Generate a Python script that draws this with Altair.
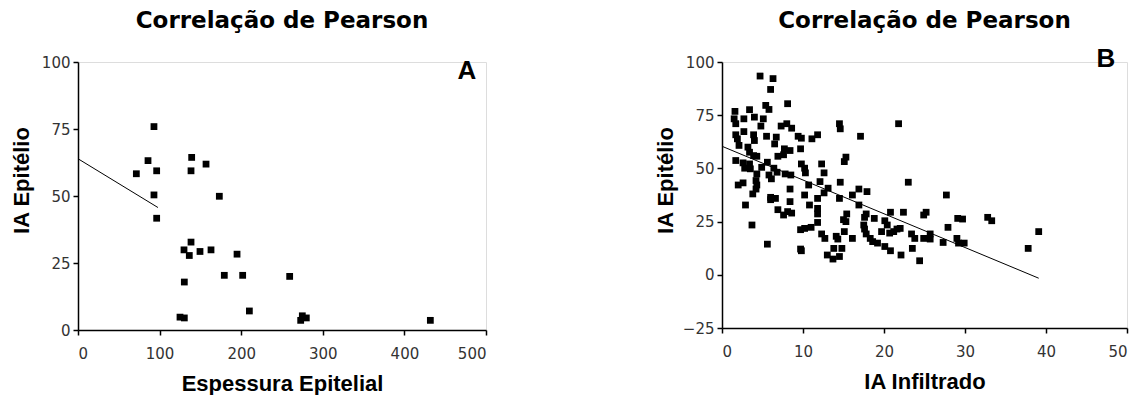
import altair as alt
import pandas as pd

title_text = "Correlação de Pearson"

# Panel A: Espessura Epitelial vs IA Epitélio
a_x = [71.5, 85.8, 93.1, 96.4, 93.1, 96.4, 139.3, 138.5, 156.9, 173.2, 138.5, 129.9,
       136.4, 149.5, 163.0, 194.9, 179.3, 201.8, 259.4, 130.3, 125.0, 130.3, 210.0,
       272.9, 274.9, 279.8, 431.8]
a_y = [58.3, 63.2, 75.9, 59.4, 50.4, 41.7, 64.4, 59.4, 61.9, 49.9, 32.8, 29.9,
       27.8, 29.3, 29.9, 28.3, 20.4, 20.4, 20.0, 17.9, 4.8, 4.5, 7.1,
       3.6, 5.3, 4.5, 3.6]
a_line_x = [0, 98]
a_line_y = [63.9, 45.7]

# Panel B: IA Infiltrado vs IA Epitélio
b_x = [4.7, 6.3, 6.0, 8.1, 5.4, 5.8, 3.4, 1.6, 5.1, 4.0, 2.7, 1.5, 1.7, 4.8, 8.0, 7.3, 8.6,
       14.5, 14.6, 21.8, 2.7, 1.7, 3.9, 5.5, 6.7, 9.4, 9.8, 11.1, 11.8, 17.1, 1.9, 4.0, 6.5,
       2.1, 3.2, 7.7, 8.4, 9.7, 3.4, 3.9, 4.3, 6.9, 7.6, 15.3, 15.1, 1.7, 2.6, 3.4, 5.6, 12.3,
       9.8, 2.8, 3.5, 4.9, 6.4, 10.2, 6.8, 7.8, 8.5, 10.3, 12.6, 4.3, 5.8, 6.1, 4.2, 2.0, 2.6,
       4.3, 12.1, 14.6, 10.7, 4.2, 8.4, 13.1, 16.9, 17.9, 3.8, 10.2, 12.6, 16.1, 23.0, 27.7,
       6.0, 6.6, 6.0, 11.8, 14.5, 8.4, 2.9, 10.8, 16.9, 11.8, 6.9, 8.1, 8.6, 7.6, 11.8, 15.4,
       17.8, 20.8, 22.4, 25.2, 24.9, 17.6, 18.8, 20.1, 20.4, 29.1, 29.7, 32.8, 33.3, 15.0,
       15.3, 3.7, 11.8, 17.5, 11.0, 10.2, 9.7, 17.6, 27.9, 21.6, 22.0, 21.2, 15.1, 19.7, 17.8,
       20.7, 39.1, 23.4, 25.7, 12.3, 14.1, 12.7, 14.3, 16.1, 18.3, 23.8, 24.9, 29.0, 25.7,
       18.6, 19.2, 27.3, 29.2, 29.9, 5.6, 20.1, 13.8, 14.8, 23.5, 37.8, 9.8, 20.8, 13.0, 14.5,
       22.1, 13.7, 24.4, 9.7]
b_y = [93.4, 92.2, 87.1, 80.4, 79.6, 77.7, 77.6, 76.8, 73.3, 74.1, 73.3, 73.3, 71.0, 69.9,
       71.0, 69.9, 68.9, 71.0, 68.6, 71.0, 67.3, 65.8, 65.8, 65.1, 64.7, 65.1, 64.2, 63.9,
       65.8, 65.1, 63.9, 63.1, 61.5, 60.8, 60.0, 59.2, 58.4, 59.2, 57.6, 56.0, 55.7, 55.7,
       56.4, 55.3, 53.2, 53.7, 52.6, 52.1, 52.9, 52.1, 52.1, 50.1, 49.8, 50.5, 50.1, 50.1,
       48.2, 47.4, 46.9, 47.9, 47.9, 47.4, 46.9, 45.1, 44.3, 42.2, 43.2, 42.2, 43.8, 43.5,
       42.2, 40.3, 40.3, 40.7, 40.3, 39.1, 38.0, 37.5, 38.5, 37.5, 43.5, 37.5, 36.4, 35.9,
       35.3, 35.9, 35.9, 34.4, 32.8, 32.8, 32.8, 31.2, 30.6, 29.7, 29.0, 28.1, 28.6, 28.6,
       28.6, 29.4, 29.4, 29.4, 28.1, 27.0, 26.5, 25.4, 23.4, 26.5, 26.2, 27.0, 25.4, 25.9,
       25.0, 23.4, 24.6, 23.4, 22.3, 21.8, 21.2, 21.5, 22.3, 21.5, 21.8, 20.3, 20.3, 20.3,
       19.2, 19.6, 20.3, 19.2, 19.2, 19.2, 18.1, 17.1, 16.8, 17.1, 17.1, 17.1, 17.1, 17.1,
       16.8, 15.6, 14.9, 15.2, 14.9, 14.9, 14.4, 13.3, 12.4, 12.4, 12.4, 12.4, 11.3, 11.3,
       9.3, 8.6, 9.3, 7.4, 6.6, 12.1]
b_line_x = [0, 39.1]
b_line_y = [60.4, -1.6]

a_x_ticks = [0, 100, 200, 300, 400, 500]
a_y_ticks = [0, 25, 50, 75, 100]
b_x_ticks = [0, 10, 20, 30, 40, 50]
b_y_ticks = [-25, 0, 25, 50, 75, 100]


def axis(title, values, vertical):
    common = dict(
        values=values, title=title, grid=False,
        domainColor="black", domainWidth=1.5, tickColor="black", tickWidth=1.5, tickSize=5,
        labelFont="DejaVu Sans", labelFontSize=15, labelColor="#333333",
        titleFont="Liberation Sans", titleFontSize=22, titleFontWeight="bold",
        titleColor="black",
    )
    if vertical:
        return alt.Axis(labelPadding=3, titleX=-57, titleY=118, titleAlign="center",
                        titleBaseline="middle", titleAngle=270, **common)
    return alt.Axis(labelPadding=11, titlePadding=12, **common)


def panel(xs, ys, lx, ly, xdom, ydom, xt, yt, xtitle, letter, lpos, w, h):
    pts = pd.DataFrame({"x": xs, "y": ys})
    ln = pd.DataFrame({"x": lx, "y": ly})
    lab = pd.DataFrame({"t": [letter]})
    ttl = pd.DataFrame({"t": [title_text]})
    xs_ = alt.Scale(domain=xdom, nice=False, zero=False)
    ys_ = alt.Scale(domain=ydom, nice=False, zero=False)
    scatter = alt.Chart(pts).mark_square(size=46, color="black", opacity=1).encode(
        x=alt.X("x:Q", scale=xs_, axis=axis(xtitle, xt, False)),
        y=alt.Y("y:Q", scale=ys_, axis=axis("IA Epitélio", yt, True)),
    )
    line = alt.Chart(ln).mark_line(color="black", strokeWidth=1).encode(
        x="x:Q", y="y:Q"
    )
    text = alt.Chart(lab).mark_text(
        font="Liberation Sans", fontSize=26, fontWeight="bold", color="black",
        align="center", baseline="alphabetic"
    ).encode(text="t:N", x=alt.value(lpos[0]), y=alt.value(lpos[1]))
    title = alt.Chart(ttl).mark_text(
        font="DejaVu Sans", fontSize=23, fontWeight="bold", color="black",
        align="center", baseline="alphabetic"
    ).encode(text="t:N", x=alt.value(w / 2), y=alt.value(-34))
    return alt.layer(scatter, line, text, title).properties(width=w, height=h)


pa = panel(a_x, a_y, a_line_x, a_line_y, [0, 500], [0, 100], a_x_ticks, a_y_ticks,
           "Espessura Epitelial", "A", (389, 17), 408, 268)
pb = panel(b_x, b_y, b_line_x, b_line_y, [0, 50], [-25, 100], b_x_ticks, b_y_ticks,
           "IA Infiltrado", "B", (384, 5), 405, 266)

chart = alt.hconcat(pa, pb, spacing=165).properties(
    padding={"left": 1, "top": 1, "right": 0, "bottom": 0}
).configure_view(stroke=None).configure(background="white")

chart.save("out.html", embed_options={"renderer": "svg", "actions": False})
